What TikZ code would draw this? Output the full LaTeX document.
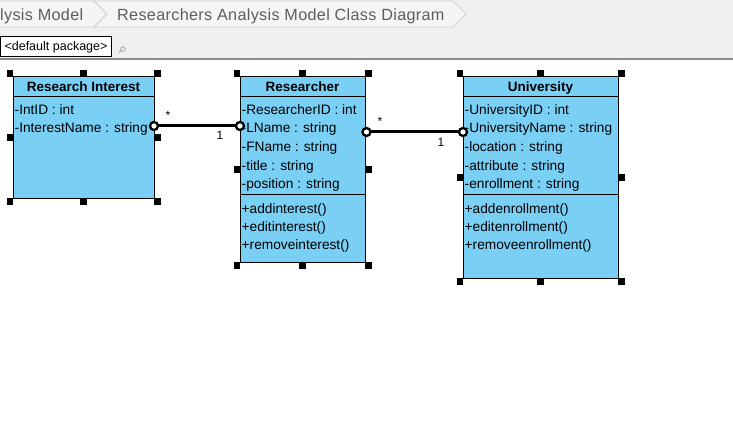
\documentclass[tikz,border=0pt]{standalone}
\usepackage{fontspec}
\setmainfont{Liberation Sans}
\newfontfamily\umlfont{Liberation Sans}
\newfontfamily\crumbfont[LetterSpace=2]{Liberation Sans}
\definecolor{barbg}{HTML}{F0F0F0}
\definecolor{crumbfill}{HTML}{F5F5F5}
\definecolor{crumbline}{HTML}{D2D2D2}
\definecolor{crumbtext}{HTML}{5E5E5E}
\definecolor{barline}{HTML}{868A92}
\definecolor{umlblue}{HTML}{7ACFF5}
\tikzset{
  classbox/.style={draw=black, line width=1pt, fill=umlblue, inner sep=0pt, outer sep=0pt, anchor=north west},
  sepline/.style={draw=black, line width=1pt},
  ctitle/.style={font=\umlfont\bfseries\fontsize{13.5}{15}\selectfont, inner sep=0pt, anchor=base},
  member/.style={font=\umlfont\fontsize{13.7}{15}\selectfont, inner sep=0pt, anchor=base west},
  handle/.style={fill=black, minimum size=6.5pt, inner sep=0pt, outer sep=0pt},
  assoc/.style={draw=black, line width=3pt},
  endc/.style={circle, draw=black, fill=white, line width=2.3pt, minimum size=8pt, inner sep=0pt},
  mult/.style={font=\fontsize{12}{14}\selectfont, inner sep=0pt, anchor=base},
  crumb/.style={draw=crumbline, fill=crumbfill, line width=0.8pt},
  crumbtxt/.style={font=\crumbfont\fontsize{16.2}{18}\selectfont, text=crumbtext, inner sep=0pt, anchor=base west},
  pkgbox/.style={draw=black, fill=white, line width=1pt, minimum width=111pt, minimum height=20pt, inner sep=0pt, font=\fontsize{12.5}{14}\selectfont}
}
\begin{document}
\begin{tikzpicture}[x=1pt,y=-1pt]
\useasboundingbox (0,0) rectangle (733,441);
\fill[white] (0,0) rectangle (733,441);
% top bar
\fill[barbg] (0,0) rectangle (733,58);
\fill[barline] (0,58) rectangle (733,60);
\filldraw[crumb] (-3,1) -- (94,1) -- (107,14) -- (94,27) -- (-3,27);
\filldraw[crumb] (94,1) -- (453,1) -- (466,14) -- (453,27) -- (94,27) -- (107,14) -- cycle;
\node[crumbtxt] (bc1) at (0,21) {lysis Model};
\node[crumbtxt] (bc2) at (117,21) {Researchers Analysis Model Class Diagram};
\node[pkgbox] (pkg) at (56,47) {<default package>};
\draw[gray!70, line width=0.8pt] (123,49) circle (2.2);
\draw[gray!70, line width=0.8pt] (121.4,50.6) -- (119,53);

% Research Interest
\node[classbox, minimum width=141pt, minimum height=121pt] (ri) at (13,77) {};
\draw[sepline] ([yshift=-20pt]ri.north west) -- ([yshift=-20pt]ri.north east);
\node[ctitle] (ri-t) at (83.5,92) {Research Interest};
\node[member] (ri-a1) at (14.5,114) {-IntID : int};
\node[member] (ri-a2) at (14.5,132.5) {-InterestName : string};

% Researcher
\node[classbox, minimum width=125pt, minimum height=185pt] (res) at (240,77) {};
\draw[sepline] ([yshift=-20pt]res.north west) -- ([yshift=-20pt]res.north east);
\draw[sepline] ([yshift=-117pt]res.north west) -- ([yshift=-117pt]res.north east);
\node[ctitle] (res-t) at (302.5,92) {Researcher};
\foreach \t [count=\i] in {-ResearcherID : int, -LName : string, -FName : string, -title : string, -position : string}
  \node[member] (res-a\i) at (241.5,{114+18.7*(\i-1)}) {\t};
\foreach \t [count=\i] in {+addinterest(), +editinterest(), +removeinterest()}
  \node[member] (res-o\i) at (241.5,{213+18.3*(\i-1)}) {\t};

% University
\node[classbox, minimum width=155pt, minimum height=201pt] (uni) at (463,77) {};
\draw[sepline] ([yshift=-20pt]uni.north west) -- ([yshift=-20pt]uni.north east);
\draw[sepline] ([yshift=-117pt]uni.north west) -- ([yshift=-117pt]uni.north east);
\node[ctitle] (uni-t) at (540.5,92) {University};
\foreach \t [count=\i] in {-UniversityID : int, -UniversityName : string, -location : string, -attribute : string, -enrollment : string}
  \node[member] (uni-a\i) at (464.5,{114+18.7*(\i-1)}) {\t};
\foreach \t [count=\i] in {+addenrollment(), +editenrollment(), +removeenrollment()}
  \node[member] (uni-o\i) at (464.5,{213+18.3*(\i-1)}) {\t};

% selection handles
\foreach \b in {ri,res,uni}{
  \foreach \a/\o [count=\i] in {north west/south east, north/south, north east/south west, west/east, east/west, south west/north east, south/north, south east/north west}
    \node[handle, anchor=\o] (\b-h\i) at (\b.\a) {};
}

% associations
\coordinate (k1) at (197,126);
\coordinate (k2) at (414,132);
\draw[assoc] (ri.east |- k1) -- (res.west |- k1);
\node[endc] (k1a) at (ri.east |- k1) {};
\node[endc] (k1b) at (res.west |- k1) {};
\node[mult] (m1a) at (168,120) {*};
\node[mult] (m1b) at (220,139.5) {1};
\draw[assoc] (res.east |- k2) -- (uni.west |- k2);
\node[endc] (k2a) at ([xshift=1.5pt]res.east |- k2) {};
\node[endc] (k2b) at (uni.west |- k2) {};
\node[mult] (m2a) at (380,125) {*};
\node[mult] (m2b) at (441,146.5) {1};
\end{tikzpicture}
\end{document}
